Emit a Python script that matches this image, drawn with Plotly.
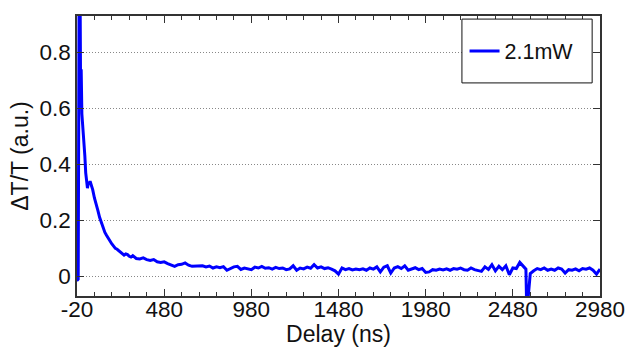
import plotly.graph_objects as go

# Early (dense) part of the transient
t_early = [-20, -16, -13, -11, -8, -5, -2, 1, 4, 8, 12, 16, 20, 25, 30, 35, 40, 45, 50, 55,
           60, 65, 70, 80, 90, 100, 110, 120, 130, 140, 150, 160, 170, 180, 190, 200,
           210, 220, 230, 240, 250, 260, 270, 280, 290, 300, 310, 320]
s_early = [-0.010, -0.012, -0.010, 0.98, 1.00, 0.75, 0.98, 0.62, 0.74, 0.58, 0.55, 0.50, 0.47,
           0.43, 0.37, 0.33, 0.315, 0.335, 0.33, 0.34, 0.33, 0.32, 0.31, 0.28, 0.26, 0.235,
           0.21, 0.19, 0.172, 0.157, 0.146, 0.135, 0.126, 0.116, 0.108, 0.100, 0.097, 0.092,
           0.088, 0.082, 0.076, 0.080, 0.078, 0.072, 0.069, 0.074, 0.068, 0.064]

# Middle part, sampled every 20 ns (340 .. 2540)
t_mid = list(range(340, 2541, 20))
s_mid = [0.062, 0.066, 0.060, 0.057, 0.060, 0.052, 0.050, 0.052, 0.046, 0.040,
         0.036, 0.042, 0.043, 0.048, 0.040, 0.036, 0.037, 0.036, 0.038, 0.034,
         0.037, 0.030, 0.034, 0.031, 0.035, 0.022, 0.027, 0.034, 0.036, 0.025,
         0.030, 0.028, 0.024, 0.033, 0.030, 0.036, 0.029, 0.031, 0.026, 0.032,
         0.028, 0.030, 0.024, 0.027, 0.038, 0.022, 0.030, 0.027, 0.033, 0.029,
         0.042, 0.030, 0.034, 0.028, 0.031, 0.026, 0.020, 0.008, 0.030, 0.024,
         0.028, 0.023, 0.026, 0.024, 0.027, 0.022, 0.030, 0.026, 0.034, 0.016,
         0.033, 0.038, 0.012, 0.030, 0.035, 0.028, 0.038, 0.022, 0.027, 0.031,
         0.024, 0.028, 0.014, 0.016, 0.024, 0.022, 0.026, 0.023, 0.027, 0.022,
         0.028, 0.026, 0.030, 0.024, 0.022, 0.030, 0.024, 0.020, 0.018, 0.034,
         0.025, 0.042, 0.020, 0.036, 0.024, 0.038, 0.006, 0.030, 0.028, 0.050,
         0.036, 0.030]

# Narrow glitch near 2555 ns
t_spike = [2550, 2555, 2560]
s_spike = [0.026, -0.13, 0.010]

# Tail, sampled every 20 ns (2580 .. 2980)
t_tail = list(range(2580, 2981, 20))
s_tail = [0.020, 0.028, 0.024, 0.030, 0.022, 0.026, 0.022, 0.030,
          0.026, 0.012, 0.024, 0.022, 0.027, 0.020, 0.028, 0.026, 0.030, 0.022,
          0.008, 0.026, 0.030]

delay = t_early + t_mid + t_spike + t_tail
signal = s_early + s_mid + s_spike + s_tail

x_ticks = [-20, 480, 980, 1480, 1980, 2480, 2980]
y_ticks = [0, 0.2, 0.4, 0.6, 0.8]
y_labels = ["0", "0.2", "0.4", "0.6", "0.8"]
series_name = "2.1mW"

FONT = "Liberation Sans, Arial, sans-serif"

fig = go.Figure()
fig.add_trace(go.Scatter(x=delay, y=signal, mode="lines", name=series_name,
                         line=dict(color="#0000ff", width=3)))

fig.update_layout(
    width=625, height=347,
    margin=dict(l=77, r=25, t=16, b=51),
    paper_bgcolor="white", plot_bgcolor="white",
    font=dict(family=FONT, size=22, color="#111"),
    showlegend=True,
    legend=dict(x=0.741, y=0.875, xanchor="left", yanchor="middle",
                bgcolor="rgba(0,0,0,0)", borderwidth=0,
                font=dict(family=FONT, size=21.5, color="#111"), itemwidth=30),
    shapes=[dict(type="rect", xref="paper", yref="paper",
                 x0=0.736, x1=0.985, y0=0.761, y1=0.989,
                 line=dict(color="#111", width=1), fillcolor="white", layer="above")],
)

fig.update_xaxes(
    range=[-20, 2980], tickvals=x_ticks, ticktext=[str(v) for v in x_ticks],
    ticks="inside", ticklen=7, tickwidth=1, tickcolor="#333",
    minor=dict(dtick=100, tick0=-20, ticks="inside", ticklen=4, tickcolor="#333", showgrid=False),
    showline=True, linecolor="#333", linewidth=1.5, mirror="ticks",
    showgrid=False, zeroline=False, automargin=False, ticklabeloverflow="allow",
    ticklabelstandoff=-8,
    title=dict(text="Delay (ns)", standoff=0, font=dict(size=23)),
    tickfont=dict(size=22.5),
)
fig.update_yaxes(
    range=[-0.07, 0.93], tickvals=y_ticks, ticktext=y_labels,
    ticks="inside", ticklen=7, tickwidth=1, tickcolor="#333",
    showline=True, linecolor="#333", linewidth=1.5, mirror="ticks",
    showgrid=True, gridcolor="#888", gridwidth=1, griddash="1px,2px",
    zeroline=False, automargin=False, ticklabeloverflow="allow",
    title=dict(text="ΔT/T (a.u.)", standoff=4, font=dict(size=23)),
    tickfont=dict(size=22.5),
)

fig.write_html("out.html")
